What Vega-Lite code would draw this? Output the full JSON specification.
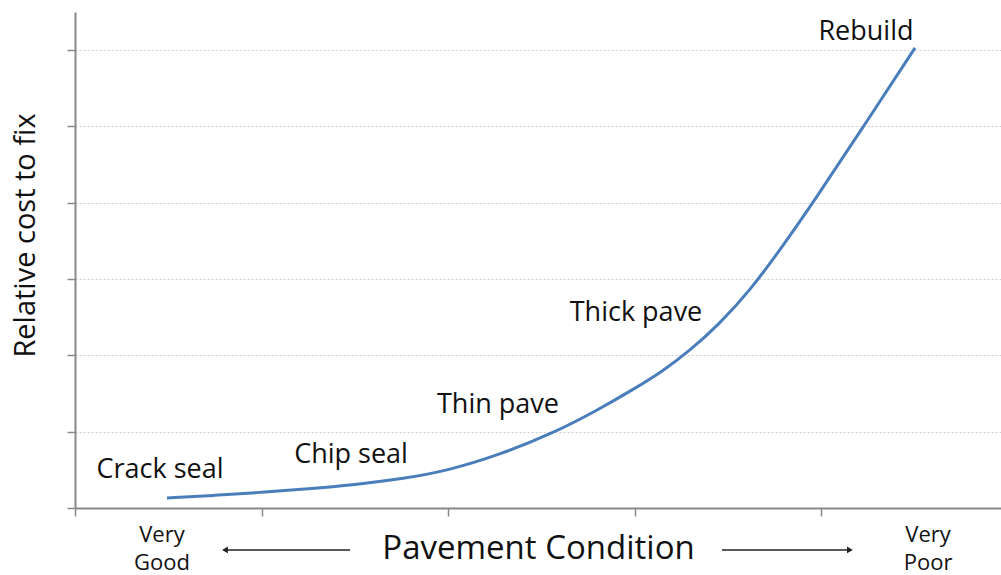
{
  "$schema": "https://vega.github.io/schema/vega-lite/v6.json",
  "width": 926,
  "height": 496,
  "autosize": {"type": "none"},
  "padding": {"left": 75, "top": 12, "right": 0, "bottom": 67},
  "background": "white",
  "config": {
    "view": {"stroke": null},
    "font": "Open Sans",
    "axis": {"labelFont": "Open Sans", "titleFont": "Open Sans"}
  },
  "datasets": {
    "curve": [
      {"condition": 0.493, "cost": 0.131},
      {"condition": 0.75, "cost": 0.165},
      {"condition": 1.0, "cost": 0.205},
      {"condition": 1.25, "cost": 0.25},
      {"condition": 1.5, "cost": 0.305},
      {"condition": 1.75, "cost": 0.38},
      {"condition": 2.0, "cost": 0.49},
      {"condition": 2.28, "cost": 0.7},
      {"condition": 2.563, "cost": 0.98},
      {"condition": 2.8, "cost": 1.28},
      {"condition": 2.99, "cost": 1.55},
      {"condition": 3.15, "cost": 1.79},
      {"condition": 3.3, "cost": 2.07},
      {"condition": 3.45, "cost": 2.4},
      {"condition": 3.62, "cost": 2.85},
      {"condition": 3.8, "cost": 3.45},
      {"condition": 3.957, "cost": 4.0},
      {"condition": 4.225, "cost": 4.99},
      {"condition": 4.504, "cost": 6.03}
    ],
    "labels": [
      {"label": "Crack seal", "condition": 0.456, "cost": 0.498},
      {"label": "Chip seal", "condition": 1.48, "cost": 0.695},
      {"label": "Thin pave", "condition": 2.268, "cost": 1.35},
      {"label": "Thick pave", "condition": 3.008, "cost": 2.556},
      {"label": "Rebuild", "condition": 4.241, "cost": 6.24}
    ],
    "ends": [
      {"label": "Very\nGood", "condition": 0.466, "cost": -0.36},
      {"label": "Very\nPoor", "condition": 4.574, "cost": -0.36}
    ],
    "arrows": [
      {"x1": 0.804, "x2": 1.475, "cost": -0.55, "head": 0.804, "shape": "triangle-left"},
      {"x1": 3.469, "x2": 4.155, "cost": -0.55, "head": 4.155, "shape": "triangle-right"}
    ]
  },
  "layer": [
    {
      "data": {"name": "curve"},
      "mark": {"type": "line", "interpolate": "basis", "color": "#4a7ebb", "strokeWidth": 3},
      "encoding": {
        "x": {
          "field": "condition", "type": "quantitative",
          "scale": {"domain": [0, 4.965], "nice": false, "zero": false},
          "axis": {
            "values": [0, 1, 2, 3, 4],
            "labels": false,
            "grid": false,
            "domainColor": "#888",
            "domainWidth": 2,
            "tickColor": "#888",
            "tickWidth": 1.5,
            "tickSize": 8,
            "title": "Pavement Condition",
            "titleFontSize": 33,
            "titleFontWeight": "normal",
            "titleColor": "#111",
            "titlePadding": 16
          }
        },
        "y": {
          "field": "cost", "type": "quantitative",
          "scale": {"domain": [0, 6.5], "nice": false},
          "axis": {
            "values": [0, 1, 2, 3, 4, 5, 6],
            "labels": false,
            "grid": true,
            "gridColor": "#cfcfcf",
            "gridDash": [2, 2],
            "gridWidth": 1,
            "domainColor": "#888",
            "domainWidth": 2,
            "tickColor": "#888",
            "tickWidth": 1.5,
            "tickSize": 8,
            "title": "Relative cost to fix",
            "titleFontSize": 29,
            "titleFontWeight": "normal",
            "titleColor": "#111",
            "titleAngle": 270,
            "titleAlign": "center",
            "titleBaseline": "middle",
            "titleX": -50,
            "titleY": 223
          }
        }
      }
    },
    {
      "data": {"name": "labels"},
      "mark": {"type": "text", "fontSize": 27, "color": "#111", "align": "center", "baseline": "middle"},
      "encoding": {
        "x": {"field": "condition", "type": "quantitative"},
        "y": {"field": "cost", "type": "quantitative"},
        "text": {"field": "label"}
      }
    },
    {
      "data": {"name": "ends"},
      "mark": {"type": "text", "fontSize": 22, "color": "#111", "align": "center", "baseline": "middle", "lineBreak": "\n", "lineHeight": 28},
      "encoding": {
        "x": {"field": "condition", "type": "quantitative"},
        "y": {"field": "cost", "type": "quantitative"},
        "text": {"field": "label"}
      }
    },
    {
      "data": {"name": "arrows"},
      "mark": {"type": "rule", "color": "#222", "strokeWidth": 1.5},
      "encoding": {
        "x": {"field": "x1", "type": "quantitative"},
        "x2": {"field": "x2"},
        "y": {"field": "cost", "type": "quantitative"}
      }
    },
    {
      "data": {"name": "arrows"},
      "mark": {"type": "point", "filled": true, "color": "#222", "size": 45, "opacity": 1},
      "encoding": {
        "x": {"field": "head", "type": "quantitative"},
        "y": {"field": "cost", "type": "quantitative"},
        "shape": {"field": "shape", "type": "nominal", "scale": null, "legend": null}
      }
    }
  ]
}
